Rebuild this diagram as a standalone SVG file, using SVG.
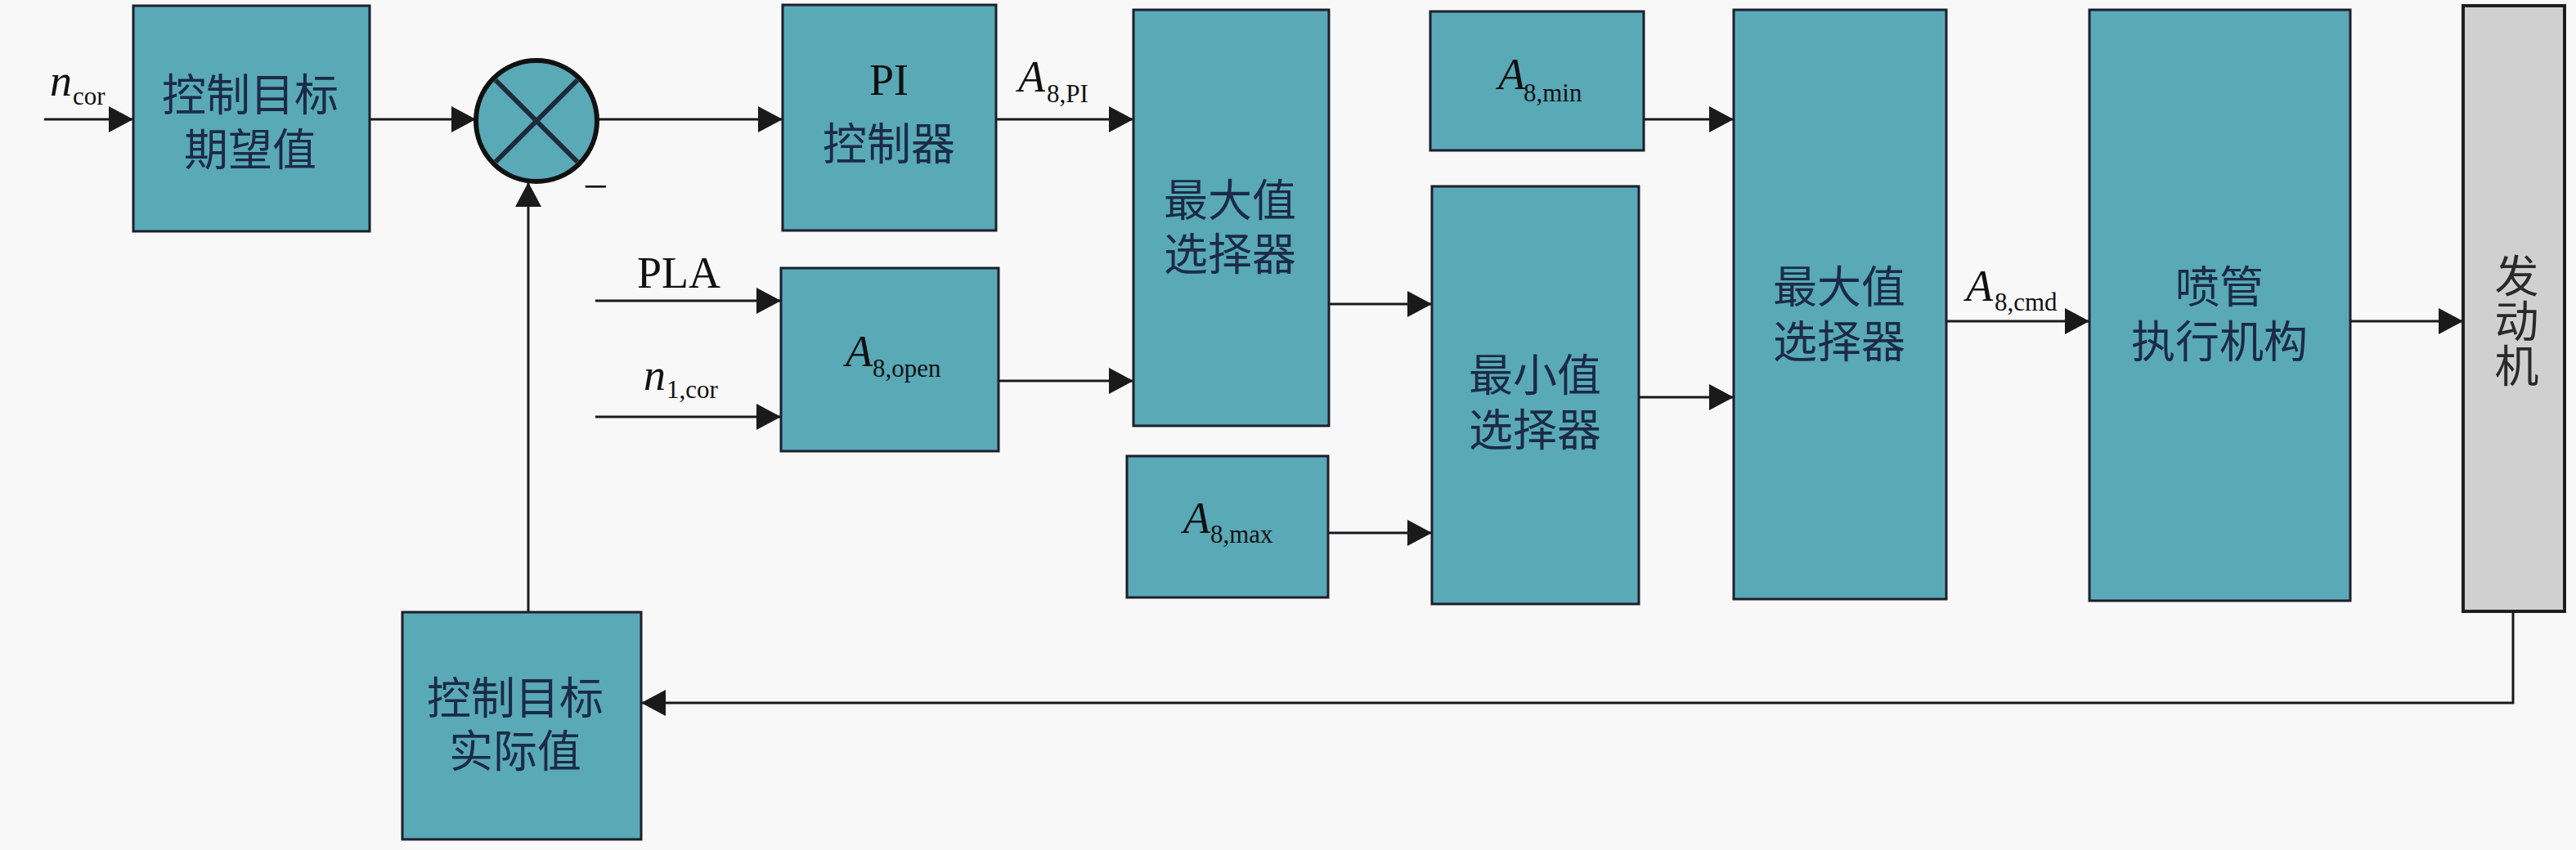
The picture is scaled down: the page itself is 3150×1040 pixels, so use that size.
<svg xmlns="http://www.w3.org/2000/svg" width="3150" height="1040" viewBox="0 0 3150 1040">
<style>
.bg{fill:#f8f8f8}
.box{fill:#59a9b7;stroke:#1e1e2c;stroke-width:3}
.eng{fill:#d0d0d0;stroke:#1e1e1e;stroke-width:4}
.cn{font-family:"Liberation Sans","Noto Sans CJK SC",sans-serif;font-size:54px;fill:#1b2b45;text-anchor:middle}
.cn2{font-family:"Liberation Sans","Noto Sans CJK SC",sans-serif;font-size:54px;fill:#2a2a2a}
.lat{font-family:"Liberation Serif",serif;font-size:54px;fill:#111}
.it{font-style:italic}
.sub{font-size:31px;font-style:normal}
.ln{fill:none;stroke:#1a1a1a;stroke-width:3}
</style>
<defs>
<marker id="ar" markerUnits="userSpaceOnUse" markerWidth="30" markerHeight="32" refX="30" refY="16" orient="auto">
<path d="M0,0 L30,16 L0,32 z" fill="#1a1a1a"/>
</marker>
</defs>
<rect class="bg" x="0" y="0" width="3150" height="1040"/>

<g id="connectors">
<line class="ln" x1="54" y1="146" x2="163" y2="146" marker-end="url(#ar)"/>
<line class="ln" x1="452" y1="146" x2="582" y2="146" marker-end="url(#ar)"/>
<line class="ln" x1="730" y1="146" x2="957" y2="146" marker-end="url(#ar)"/>
<line class="ln" x1="1218" y1="146" x2="1386" y2="146" marker-end="url(#ar)"/>
<line class="ln" x1="728" y1="368" x2="955" y2="368" marker-end="url(#ar)"/>
<line class="ln" x1="728" y1="510" x2="955" y2="510" marker-end="url(#ar)"/>
<line class="ln" x1="1221" y1="466" x2="1386" y2="466" marker-end="url(#ar)"/>
<line class="ln" x1="1625" y1="372" x2="1751" y2="372" marker-end="url(#ar)"/>
<line class="ln" x1="1624" y1="652" x2="1751" y2="652" marker-end="url(#ar)"/>
<line class="ln" x1="2010" y1="146" x2="2120" y2="146" marker-end="url(#ar)"/>
<line class="ln" x1="2004" y1="486" x2="2120" y2="486" marker-end="url(#ar)"/>
<line class="ln" x1="2380" y1="393" x2="2555" y2="393" marker-end="url(#ar)"/>
<line class="ln" x1="2874" y1="393" x2="3012" y2="393" marker-end="url(#ar)"/>
<polyline class="ln" points="3073,748 3073,860 784,860" marker-end="url(#ar)"/>
<line class="ln" x1="646" y1="749" x2="646" y2="223" marker-end="url(#ar)"/>
</g>

<g id="labels">
<text class="lat it" x="61" y="117">n<tspan class="sub" x="89" y="128">cor</tspan></text>
<text class="lat it" x="1245" y="112">A<tspan class="sub" x="1280" y="125">8,PI</tspan></text>
<text class="lat" x="779" y="352">PLA</text>
<text class="lat it" x="787" y="477">n<tspan class="sub" x="815" y="487">1,cor</tspan></text>
<text class="lat it" x="2404" y="368">A<tspan class="sub" x="2439" y="380">8,cmd</tspan></text>
<text class="lat" x="713" y="246">−</text>
</g>

<g id="n-target-desired">
<rect class="box" x="163" y="7" width="289" height="276"/>
<text class="cn"><tspan x="306" y="136">控制目标</tspan><tspan x="306" y="203">期望值</tspan></text>
</g>

<g id="n-sum">
<circle cx="656" cy="148" r="74" fill="#59a9b7" stroke="#111" stroke-width="6"/>
<line x1="606" y1="98" x2="706" y2="198" stroke="#1d2a3a" stroke-width="6"/>
<line x1="706" y1="98" x2="606" y2="198" stroke="#1d2a3a" stroke-width="6"/>
</g>

<g id="n-pi">
<rect class="box" x="957" y="6" width="261" height="276"/>
<text class="lat" x="1087" y="116" text-anchor="middle" fill="#1b2b45">PI</text>
<text class="cn" x="1087" y="196">控制器</text>
</g>

<g id="n-a8open">
<rect class="box" x="955" y="328" width="266" height="224"/>
<text class="lat it" x="1034" y="448" fill="#1b2b45">A<tspan class="sub" x="1067" y="461">8,open</tspan></text>
</g>

<g id="n-max1">
<rect class="box" x="1386" y="12" width="239" height="509"/>
<text class="cn"><tspan x="1504" y="265">最大值</tspan><tspan x="1504" y="331">选择器</tspan></text>
</g>

<g id="n-a8max">
<rect class="box" x="1378" y="558" width="246" height="173"/>
<text class="lat it" x="1447" y="652" fill="#1b2b45">A<tspan class="sub" x="1480" y="664">8,max</tspan></text>
</g>

<g id="n-a8min">
<rect class="box" x="1749" y="14" width="261" height="170"/>
<text class="lat it" x="1832" y="109" fill="#1b2b45">A<tspan class="sub" x="1863" y="124">8,min</tspan></text>
</g>

<g id="n-min">
<rect class="box" x="1751" y="228" width="253" height="511"/>
<text class="cn"><tspan x="1877" y="479">最小值</tspan><tspan x="1877" y="546">选择器</tspan></text>
</g>

<g id="n-max2">
<rect class="box" x="2120" y="12" width="260" height="721"/>
<text class="cn"><tspan x="2249" y="371">最大值</tspan><tspan x="2249" y="438">选择器</tspan></text>
</g>

<g id="n-nozzle">
<rect class="box" x="2555" y="12" width="319" height="723"/>
<text class="cn"><tspan x="2714" y="371">喷管</tspan><tspan x="2714" y="438">执行机构</tspan></text>
</g>

<g id="n-engine">
<rect class="eng" x="3012" y="7" width="124" height="741"/>
<text class="cn2" x="3073" y="310" writing-mode="tb" style="writing-mode:vertical-rl;letter-spacing:1px">发动机</text>
</g>

<g id="n-target-actual">
<rect class="box" x="492" y="749" width="292" height="278"/>
<text class="cn"><tspan x="630" y="874">控制目标</tspan><tspan x="630" y="939">实际值</tspan></text>
</g>
</svg>
